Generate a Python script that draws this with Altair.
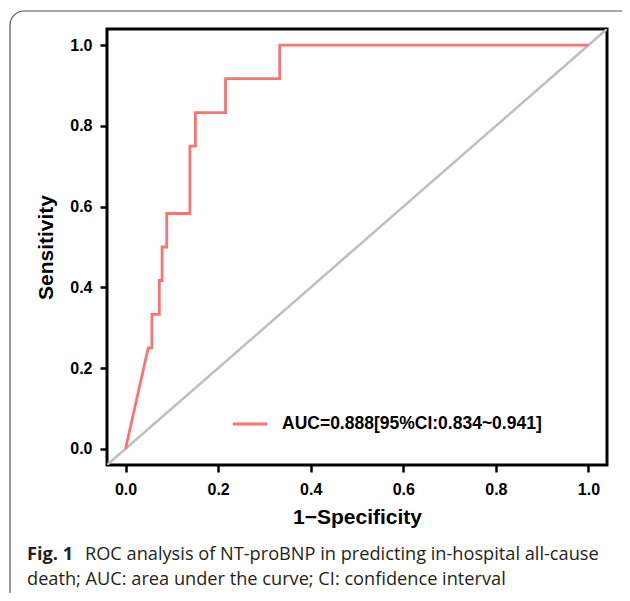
import altair as alt
import pandas as pd

# ROC curve points (1 - specificity, sensitivity)
fpr = [0.0, 0.049, 0.057, 0.057, 0.073, 0.073, 0.079, 0.079, 0.089, 0.089,
       0.139, 0.139, 0.151, 0.151, 0.216, 0.216, 0.333, 0.333, 1.0]
tpr = [0.0, 0.25, 0.25, 0.333, 0.333, 0.417, 0.417, 0.5, 0.5, 0.583,
       0.583, 0.75, 0.75, 0.833, 0.833, 0.917, 0.917, 1.0, 1.0]
ref_x = [-0.04, 1.04]
ref_y = [-0.04, 1.04]
auc_label = "AUC=0.888[95%CI:0.834~0.941]"
tick_values = [0.0, 0.2, 0.4, 0.6, 0.8, 1.0]
axis_domain = [-0.04, 1.04]
caption_bold = "Fig. 1"
caption_line1 = "ROC analysis of NT-proBNP in predicting in-hospital all-cause"
caption_line2 = "death; AUC: area under the curve; CI: confidence interval"

roc_df = pd.DataFrame({"fpr": fpr, "tpr": tpr, "order": list(range(len(fpr))),
                       "series": [auc_label] * len(fpr)})
ref_df = pd.DataFrame({"fpr": ref_x, "tpr": ref_y})

W, H = 500, 436

xscale = alt.Scale(domain=axis_domain, nice=False, zero=False)
yscale = alt.Scale(domain=axis_domain, nice=False, zero=False)

xaxis = alt.Axis(values=tick_values, format=".1f", title="1\u2212Specificity",
                 labelPadding=9, titlePadding=9)
yaxis = alt.Axis(values=tick_values, format=".1f", title="Sensitivity",
                 labelPadding=8, titlePadding=13)

diag = alt.Chart(ref_df).mark_line(color="#BEBEBE", strokeWidth=2.5, clip=True).encode(
    x=alt.X("fpr:Q", scale=xscale, axis=xaxis),
    y=alt.Y("tpr:Q", scale=yscale, axis=yaxis),
)

roc = alt.Chart(roc_df).mark_line(strokeWidth=2.8, clip=True).encode(
    x=alt.X("fpr:Q", scale=xscale, axis=xaxis),
    y=alt.Y("tpr:Q", scale=yscale, axis=yaxis),
    order="order:Q",
    color=alt.Color("series:N",
                    scale=alt.Scale(range=["#F87671"]),
                    legend=alt.Legend(title=None, orient="none",
                                      legendX=124, legendY=376,
                                      symbolType="stroke", symbolSize=1200,
                                      symbolStrokeWidth=3,
                                      labelFont="Liberation Sans",
                                      labelFontWeight="bold", labelFontSize=17.5,
                                      labelColor="black", labelOffset=13,
                                      labelLimit=600)),
)

one = alt.Data(values=[{"k": 1}])

frame = alt.Chart(one).mark_rect(
    fill=None, stroke="#555555", strokeWidth=1.2, cornerRadius=14, clip=False
).encode(x=alt.value(-97), x2=alt.value(540), y=alt.value(-18), y2=alt.value(590))

cap_bold = alt.Chart(one).mark_text(
    text=caption_bold, font="Open Sans", fontWeight="bold", fontSize=18.2,
    align="left", baseline="alphabetic", color="#231F20", clip=False
).encode(x=alt.value(-80), y=alt.value(531))

cap1 = alt.Chart(one).mark_text(
    text=caption_line1, font="Open Sans", fontSize=18.2,
    align="left", baseline="alphabetic", color="#231F20", clip=False
).encode(x=alt.value(-22), y=alt.value(531))

cap2 = alt.Chart(one).mark_text(
    text=caption_line2, font="Open Sans", fontSize=18.2,
    align="left", baseline="alphabetic", color="#231F20", clip=False
).encode(x=alt.value(-80), y=alt.value(556))

chart = alt.layer(frame, diag, roc, cap_bold, cap1, cap2).properties(
    width=W, height=H,
    autosize=alt.AutoSizeParams(type="none"),
    padding={"left": 99, "top": 21, "right": 15, "bottom": 128},
).configure_view(
    stroke="black", strokeWidth=3
).configure_axis(
    domain=False, grid=False, tickColor="black", tickWidth=2.5, tickSize=7,
    labelFont="Liberation Sans", labelFontWeight="bold", labelFontSize=16,
    labelColor="black",
    titleFont="Liberation Sans", titleFontWeight="bold", titleFontSize=21,
    titleColor="black",
)

chart.save("out.html", embed_options={"renderer": "svg", "actions": False})
